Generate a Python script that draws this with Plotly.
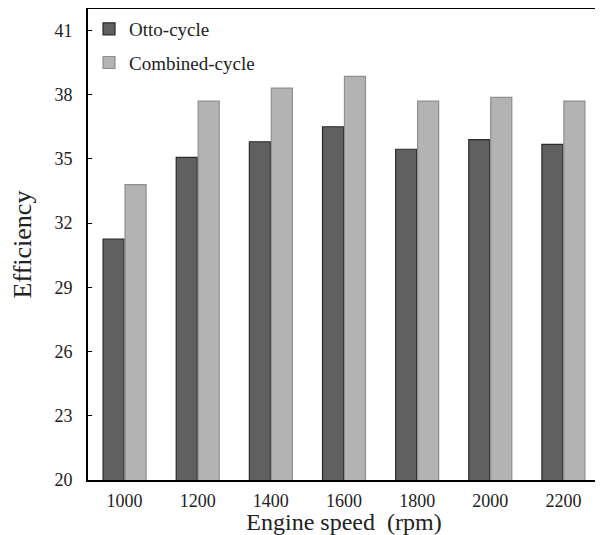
import plotly.graph_objects as go

speeds = ["1000", "1200", "1400", "1600", "1800", "2000", "2200"]
otto = [31.25, 35.07, 35.8, 36.5, 35.45, 35.9, 35.68]
combined = [33.8, 37.7, 38.3, 38.85, 37.7, 37.87, 37.7]
y_ticks = [20, 23, 26, 29, 32, 35, 38, 41]

fig = go.Figure()
fig.add_trace(go.Bar(x=speeds, y=otto, name="Otto-cycle", legendgroup="a",
                     marker=dict(color="#606060", line=dict(color="#2a2a2a", width=1.2))))
fig.add_trace(go.Bar(x=speeds, y=combined, name="Combined-cycle", legendgroup="b",
                     marker=dict(color="#b3b3b3", line=dict(color="#8f8f8f", width=1.2))))

font_family = "Liberation Serif, Times New Roman, serif"
# page body has an 8px margin, so the figure is sized to fit the window
fig.update_layout(
    width=595, height=527,
    margin=dict(l=80, r=3, t=1, b=55),
    plot_bgcolor="white", paper_bgcolor="white",
    barmode="group", bargap=0.4, bargroupgap=0.04,
    font=dict(family=font_family, color="#222222", size=18),
    legend=dict(x=0.002, y=0.998, xanchor="left", yanchor="top",
                bgcolor="rgba(0,0,0,0)", font=dict(size=19, family=font_family),
                traceorder="grouped", tracegroupgap=6, itemwidth=30),
    showlegend=True,
)
fig.update_xaxes(
    automargin=False,
    showline=True, linecolor="black", linewidth=2, mirror=True,
    ticks="", tickfont=dict(size=18, family=font_family), ticklabelstandoff=3,
    title=dict(text="Engine speed  (rpm)", font=dict(size=24, family=font_family), standoff=3),
)
fig.update_yaxes(
    automargin=False,
    range=[20, 42], tickvals=y_ticks, showgrid=False, zeroline=False,
    showline=True, linecolor="black", linewidth=2, mirror=True,
    ticks="inside", ticklen=4, tickcolor="black",
    tickfont=dict(size=18, family=font_family), ticklabelstandoff=10,
    title=dict(text="Efficiency", font=dict(size=26, family=font_family), standoff=20),
)
fig.write_html("out.html")
